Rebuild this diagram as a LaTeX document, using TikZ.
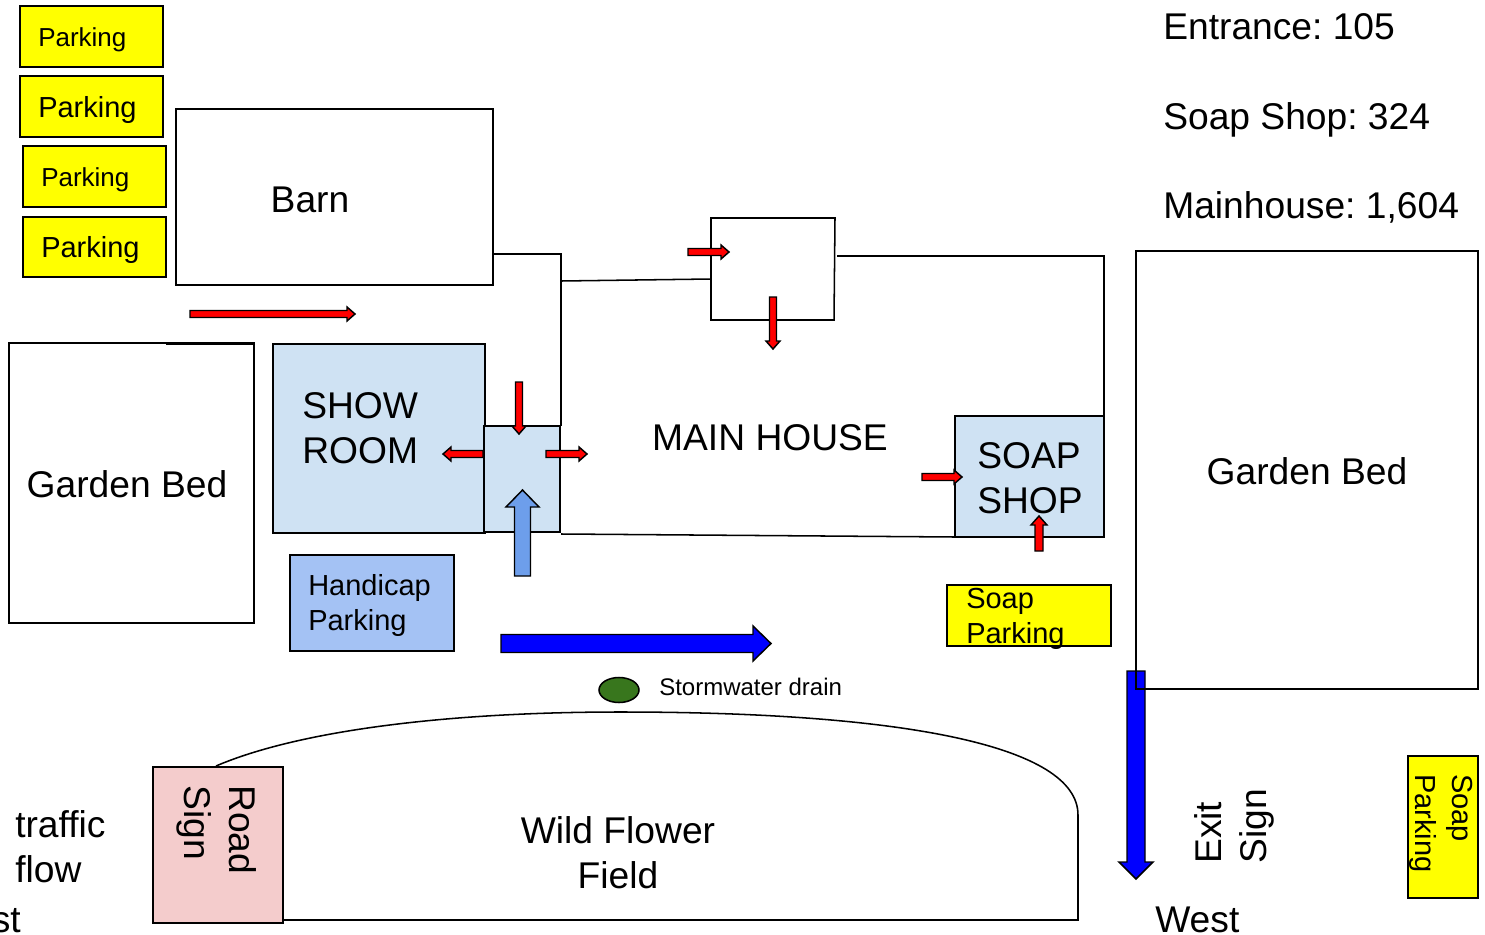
\documentclass[tikz,border=0pt]{standalone}
\usepackage{fontspec}
\setmainfont{Liberation Sans}
\frenchspacing
\definecolor{parkY}{HTML}{FFFF00}
\definecolor{roomB}{HTML}{CFE2F3}
\definecolor{handiB}{HTML}{A4C2F4}
\definecolor{upB}{HTML}{6D9EEB}
\definecolor{signP}{HTML}{F4CCCC}
\definecolor{drainG}{HTML}{38761D}
\newcommand{\barrow}[8]{% x y angle length halfshaft halfhead headlen colour
  \draw[arrowline,fill=#8,shift={(#1,#2)},rotate=#3]
    (0,-#5)--(#4-#7,-#5)--(#4-#7,-#6)--(#4,0)--(#4-#7,#6)--(#4-#7,#5)--(0,#5)--cycle;}
\tikzset{
  line/.style={draw=black,line width=1.15pt},
  arrowline/.style={draw=black,line width=1.1pt,line join=miter},
  txtbig/.style={font=\fontsize{27.9}{33.75}\selectfont,inner sep=0pt,align=left,text=black},
  txtmid/.style={font=\fontsize{21.75}{26.25}\selectfont,inner sep=0pt,align=left,text=black},
  txtsmall/.style={font=\fontsize{19.5}{24}\selectfont,inner sep=0pt,align=left,text=black},
  txtdrain/.style={font=\fontsize{18}{22}\selectfont,inner sep=0pt,align=left,text=black},
}
\begin{document}
\begin{tikzpicture}[x=0.75pt,y=-0.75pt]
\useasboundingbox (0,0) rectangle (1485,935);
% parking
\draw[line,fill=parkY] (20,6) rectangle (163,67);
\draw[line,fill=parkY] (20,76) rectangle (163,137);
\draw[line,fill=parkY] (23,146) rectangle (166,207);
\draw[line,fill=parkY] (23,217) rectangle (166,277);
\node[txtsmall,anchor=west] (p1) at (38,40) {Parking};
\node[txtmid,anchor=west] (p2) at (38,110) {Parking};
\node[txtsmall,anchor=west] (p3) at (41,180) {Parking};
\node[txtmid,anchor=west] (p4) at (41,250) {Parking};
% barn
\draw[line] (176,109) rectangle (493,285);
\node[txtbig] (barn) at (310,200) {Barn};
% left garden bed
\draw[line] (9,343) rectangle (254,623);
\draw[line] (166,344) -- (254,344);
\node[txtbig] (gl) at (127,484) {Garden Bed};
% show room and entrance
\draw[line,fill=roomB] (273,344) rectangle (485,533);
\node[txtbig,anchor=west] (show) at (302,428) {SHOW\\ROOM};
\draw[line,fill=roomB] (484,426) rectangle (560,532);
% main house outline
\draw[line] (493,254) -- (561,254) -- (561,426);
\draw[line] (561,281) -- (711,279);
\draw[line] (711,279) -- (711,218) -- (835,218) -- (834,320) -- (711,320) -- (711,279);
\draw[line] (837,256) -- (1104,256) -- (1104,416);
\draw[line] (561,534) -- (955,537);
\node[txtbig] (main) at (770,438) {MAIN HOUSE};
% soap shop
\draw[line,fill=roomB] (955,416) rectangle (1104,537);
\node[txtbig,anchor=west] (soap) at (977,478) {SOAP\\SHOP};
% handicap
\draw[line,fill=handiB] (290,555) rectangle (454,651);
\node[txtmid,anchor=west] (handi) at (308,605.5) {Handicap\\Parking};
% soap parking
\draw[line,fill=parkY] (947,585) rectangle (1111,646);
\node[txtmid,anchor=west] (sp) at (966,618.5) {Soap\\Parking};
% stats
\node[txtbig,anchor=west] (s1) at (1163,27) {Entrance: 105};
\node[txtbig,anchor=west] (s2) at (1163,120) {Soap Shop: 324};
\node[txtbig,anchor=west] (s3) at (1163,207) {Mainhouse: 1,604};
% arrows
\barrow{190}{314}{0}{165}{3.5}{7}{8}{red}
\barrow{688}{252}{0}{41}{3.5}{7}{8}{red}
\barrow{773}{297}{-90}{52}{3.5}{7}{8}{red}
\barrow{519}{382}{-90}{52}{3.5}{7}{8}{red}
\barrow{483}{454}{180}{40}{3.5}{7}{8}{red}
\barrow{546}{454}{0}{41}{3.5}{7}{8}{red}
\barrow{922}{477}{0}{40}{3.5}{7}{8}{red}
\barrow{1039}{551}{90}{35}{4}{8}{9}{red}
\barrow{522.5}{576}{90}{86}{8}{16.5}{17}{upB}
\barrow{501}{643.5}{0}{270}{9}{17.5}{18}{blue}
\barrow{1136}{671}{-90}{208}{9}{17}{17}{blue}
% right garden bed
\draw[line] (1136,251) rectangle (1478,689);
\node[txtbig] (gr) at (1307,471) {Garden Bed};
% drain
\draw[line,fill=drainG] (619,690) ellipse [x radius=20,y radius=12.5];
\node[txtdrain,anchor=west] (drain) at (659,687) {Stormwater drain};
% wild flower field
\draw[line] (216,766) .. controls (300,730) and (450,712) .. (620,712)
  .. controls (900,712) and (1078,745) .. (1078,815) -- (1078,920) -- (283,920);
\node[txtbig,align=center] (wild) at (618,853) {Wild Flower\\Field};
% road sign
\draw[line,fill=signP] (153,767) rectangle (283,923);
\node[txtbig,rotate=-90,anchor=west] (road) at (217,785) {Road\\Sign};
% left text
\node[txtbig,anchor=west] (traffic) at (15,847) {traffic\\flow};
\node[txtbig,anchor=base east] (st) at (21,932) {st};
% exit
\node[txtbig,rotate=90,anchor=west] (exit) at (1234,864) {Exit\\Sign};
\node[txtbig,anchor=base west] (west) at (1155,932) {West};
% right soap parking
\draw[line,fill=parkY] (1408,756) rectangle (1478,898);
\node[txtmid,rotate=-90,anchor=west] (sp2) at (1441,774) {Soap\\[2pt]Parking};
\end{tikzpicture}
\end{document}
